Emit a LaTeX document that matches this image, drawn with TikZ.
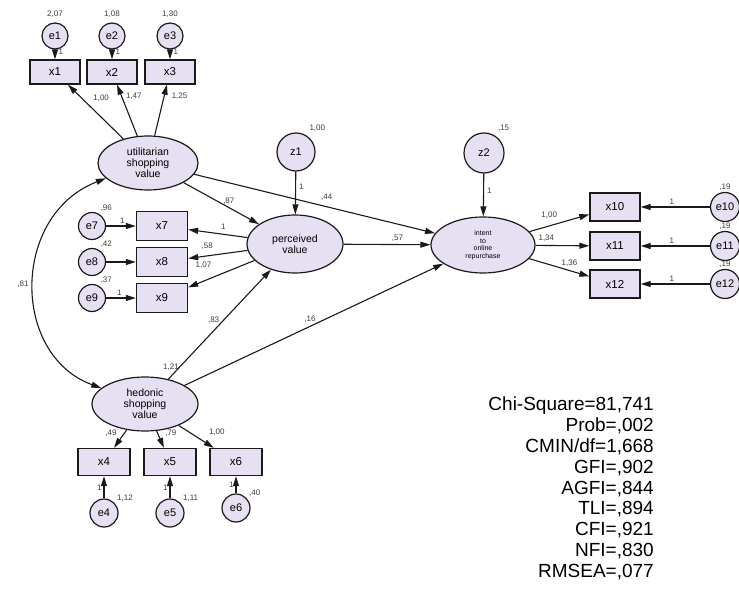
\documentclass[tikz,border=0pt]{standalone}
\usepackage{fontspec}
\setmainfont{Liberation Sans}
\usetikzlibrary{arrows.meta, positioning, shapes.geometric}
\definecolor{amosLilac}{RGB}{231,223,242}
\definecolor{amosInk}{HTML}{1A1A1A}

\begin{document}
\begin{tikzpicture}[x=1pt, y=-1pt, font=\fontsize{10}{11}\selectfont,
  obs/.style={draw=amosInk, fill=amosLilac, line width=1.4pt, minimum width=50pt, minimum height=27pt,
              inner sep=0pt, font=\fontsize{11.5}{12}\selectfont},
  lat/.style={ellipse, draw=amosInk, fill=amosLilac, line width=1.2pt, inner sep=0pt, align=center,
              font=\fontsize{10.5}{11}\selectfont},
  err/.style={circle, draw=amosInk, fill=amosLilac, line width=1.2pt, minimum size=27pt, inner sep=0pt,
              font=\fontsize{11}{12}\selectfont},
  link/.style={-{Triangle[length=10pt,width=6pt]}, draw=amosInk, line width=1.1pt},
  coef/.style={font=\fontsize{8}{9}\selectfont, text=amosInk!85, inner sep=1pt},
]
  \useasboundingbox (0,0) rectangle (739,604);

  % latent constructs
  \node[lat, minimum width=100pt, minimum height=54pt] (util) at (148,163) {utilitarian\\shopping\\value};
  \node[lat, minimum width=106pt, minimum height=54pt, label={[coef, label distance=6pt]62:{1,21}}]
       (hedo) at (145,404) {hedonic\\shopping\\value};
  \node[lat, minimum width=96pt, minimum height=58pt] (perc) at (295,244) {perceived\\value};
  \node[lat, minimum width=104pt, minimum height=56pt, font=\fontsize{7}{7.6}\selectfont]
       (intent) at (483,245) {intent\\to\\online\\repurchase};
  \node[err, minimum size=38pt, label={[coef, label distance=3pt]57:{1,00}}] (z1) at (296,152) {z1};
  \node[err, minimum size=40pt, label={[coef, label distance=3pt]57:{,15}}] (z2) at (484,153) {z2};

  % utilitarian indicators
  \foreach \i/\xx/\vv in {1/55/{2,07}, 2/112/{1,08}, 3/170/{1,30}}{
    \node[err, minimum size=26pt, label={[coef, label distance=4pt]90:\vv}] (e\i) at (\xx,36) {e\i};
    \node[obs, minimum height=24pt] (x\i) at (\xx,72) {x\i};
    \draw[link] (e\i) -- (x\i) node[coef, pos=.2, right=2pt] {1};
  }
  \draw[link] (util) -- (x1) node[coef, pos=.75, right=10pt] {1,00};
  \draw[link] (util) -- (x2) node[coef, pos=.78, right=3pt] {1,47};
  \draw[link] (util) -- (x3) node[coef, pos=.78, right=6pt] {1,25};

  % perceived value indicators
  \foreach \i/\yy/\vv in {7/226/{,96}, 8/262/{,42}, 9/298/{,37}}{
    \node[err, label={[coef, label distance=1pt]60:\vv}] (e\i) at (92,\yy) {e\i};
    \node[obs, minimum width=51pt, minimum height=29pt] (x\i) at (162,\yy) {x\i};
  }
  \draw[link] (e7) -- (x7) node[coef, pos=.55, above=1pt] {1};
  \draw[link] (e8) -- (x8);
  \draw[link] (e9) -- (x9) node[coef, pos=.45, above=1pt] {1};
  \draw[link] (perc) -- (x7) node[coef, pos=.41, above=3pt] {1};
  \draw[link] (perc) -- (x8) node[coef, pos=.68, above=5pt] {,58};
  \draw[link] (perc) -- (x9) node[coef, pos=.77, above=11pt] {1,07};

  % hedonic indicators
  \foreach \i/\xx/\ey/\vv in {4/104/513/{1,12}, 5/170/513/{1,11}, 6/236/508/{,40}}{
    \node[obs, minimum width=52pt] (x\i) at (\xx,462) {x\i};
    \node[err, minimum size=28pt, label={[coef, label distance=1pt]40:\vv}] (e\i) at (\xx,\ey) {e\i};
    \draw[link] (e\i) -- (x\i) node[coef, pos=.5, left=1pt] {1};
  }
  \draw[link] (hedo) -- (x4) node[coef, pos=.2, left=6pt] {,49};
  \draw[link] (hedo) -- (x5) node[coef, pos=.15, right=6pt] {,79};
  \draw[link] (hedo) -- (x6) node[coef, pos=.7, above right=6pt] {1,00};

  % intent indicators
  \foreach \i/\yy in {10/207, 11/246, 12/284}{
    \node[obs, minimum height=28pt] (x\i) at (615,\yy) {x\i};
    \node[err, minimum size=29pt, label={[coef, label distance=0pt]90:{,19}}] (e\i) at (725,\yy) {e\i};
    \draw[link] (e\i) -- (x\i) node[coef, pos=.55, above=1pt] {1};
  }
  \draw[link] (intent) -- (x10) node[coef, pos=.33, above=6pt] {1,00};
  \draw[link] (intent) -- (x11) node[coef, pos=.2, above=2pt] {1,34};
  \draw[link] (intent) -- (x12) node[coef, pos=.67, above=2pt] {1,36};

  % structural paths
  \draw[link] (z1) -- (perc) node[coef, pos=.35, right=2pt] {1};
  \draw[link] (z2) -- (intent) node[coef, pos=.4, right=2pt] {1};
  \draw[link] (util) -- (perc) node[coef, pos=.6, above=1pt] {,87};
  \draw[link] (util) -- (intent) node[coef, pos=.55, above=5pt] {,44};
  \draw[link] (perc) -- (intent) node[coef, pos=.62, above=1pt] {,57};
  \draw[link] (hedo) -- (perc) node[coef, pos=.54, left=3pt] {,83};
  \draw[link] (hedo) -- (intent) node[coef, pos=.485, above=2pt] {,16};
  \draw[link, {Triangle[length=10pt,width=6pt]}-{Triangle[length=10pt,width=6pt]}]
    (util.200) .. controls (11,215) and (11,355) .. (hedo.160) node[coef, pos=.5, left=4pt] {,81};

  % fit indices
  \node[anchor=north east, align=right, inner sep=0pt, font=\fontsize{19}{20.8}\selectfont] (fit) at (654,397)
    {Chi-Square=81,741\\Prob=,002\\CMIN/df=1,668\\GFI=,902\\AGFI=,844\\TLI=,894\\CFI=,921\\NFI=,830\\RMSEA=,077};
\end{tikzpicture}
\end{document}
